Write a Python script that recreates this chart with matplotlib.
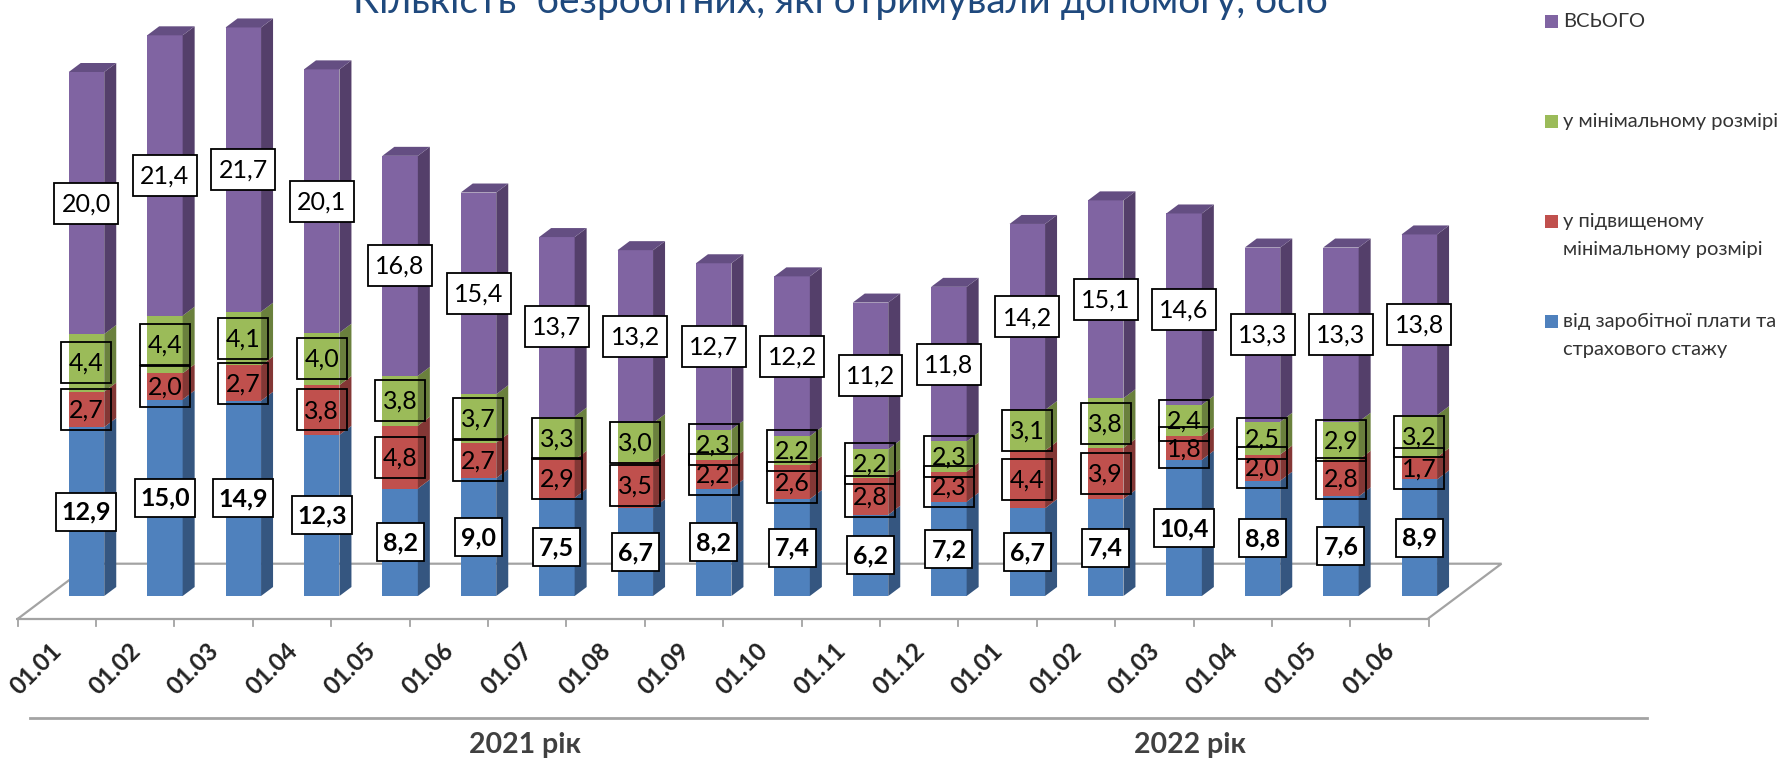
import numpy as np
import matplotlib
matplotlib.use('Agg')
import matplotlib.pyplot as plt
from matplotlib.patches import Polygon, Rectangle

plt.rcParams['font.family'] = ['Lato', 'Open Sans', 'DejaVu Sans']

months = ['01.01', '01.02', '01.03', '01.04', '01.05', '01.06', '01.07', '01.08', '01.09',
          '01.10', '01.11', '01.12', '01.01', '01.02', '01.03', '01.04', '01.05', '01.06']
wage = [12.9, 15.0, 14.9, 12.3, 8.2, 9.0, 7.5, 6.7, 8.2, 7.4, 6.2, 7.2, 6.7, 7.4, 10.4, 8.8, 7.6, 8.9]
raised = [2.7, 2.0, 2.7, 3.8, 4.8, 2.7, 2.9, 3.5, 2.2, 2.6, 2.8, 2.3, 4.4, 3.9, 1.8, 2.0, 2.8, 1.7]
minimal = [4.4, 4.4, 4.1, 4.0, 3.8, 3.7, 3.3, 3.0, 2.3, 2.2, 2.2, 2.3, 3.1, 3.8, 2.4, 2.5, 2.9, 3.2]
total = [20.0, 21.4, 21.7, 20.1, 16.8, 15.4, 13.7, 13.2, 12.7, 12.2, 11.2, 11.8, 14.2, 15.1, 14.6, 13.3, 13.3, 13.8]
years = ['2021 рік', '2022 рік']
title = 'Кількість  безробітних, які отримували допомогу, осіб'
legend_labels = ['ВСЬОГО', 'у мінімальному розмірі', 'у підвищеному\nмінімальному розмірі',
                 'від заробітної плати та\nстрахового стажу']

W, H = 1791, 760
STEP, UNIT = 78.4, 13.1   # px per category / per value
X0, Y0 = 86.5, 596        # px of first bar centre and of the base
BAR_W = 35.5 / STEP
DX, DY = 12 / STEP, 9 / UNIT

fig = plt.figure(figsize=(W / 100, H / 100), dpi=100, facecolor='white')

# pixel overlay for the floor, legend and title
bg = fig.add_axes([0, 0, 1, 1], zorder=0)
bg.set_xlim(0, W)
bg.set_ylim(H, 0)
bg.axis('off')

ax = fig.add_axes([0, 0, 1, 1], zorder=1)
ax.set_xlim(-X0 / STEP, (W - X0) / STEP)
ax.set_ylim((Y0 - H) / UNIT, Y0 / UNIT)
ax.axis('off')

##############################################################################
#   FLOOR                                                                    #
##############################################################################
gray = '#A3A3A3'
bg.plot([17.5, 91, 1501.5, 1427.5, 17.5], [619, 563.7, 563.7, 619, 619], color=gray, lw=1.6, solid_joinstyle='miter')
for i in range(len(months) + 1):
    xt = 17.5 + STEP * i
    bg.plot([xt, xt], [619, 626], color=gray, lw=1.3)
bg.plot([30, 1647], [718, 718], color=gray, lw=2)
bg.text(525, 745, years[0], fontsize=20.5, fontweight='bold', color='#404040', ha='center', va='center')
bg.text(1190, 745, years[1], fontsize=20.5, fontweight='bold', color='#404040', ha='center', va='center')

##############################################################################
#   BARS                                                                     #
##############################################################################
series = [wage, raised, minimal, total]
front = ['#4F81BD', '#C0504D', '#9BBB59', '#8064A2']
side = ['#355680', '#833735', '#6A803D', '#543F6A']
top_col = '#644E82'
xs = np.arange(len(months))
bottom = np.zeros(len(months))
for vals, fc, sc in zip(series, front, side):
    vals = np.array(vals)
    ax.bar(xs, vals, BAR_W, bottom=bottom, color=fc, zorder=2)
    for x, b, v in zip(xs, bottom, vals):
        r = x + BAR_W / 2
        ax.add_patch(Polygon([(r, b), (r + DX, b + DY), (r + DX, b + v + DY), (r, b + v)], color=sc, lw=0, zorder=2))
    bottom = bottom + vals
for x, t in zip(xs, bottom):
    l, r = x - BAR_W / 2, x + BAR_W / 2
    ax.add_patch(Polygon([(l, t), (r, t), (r + DX, t + DY), (l + DX, t + DY)], color=top_col, lw=0, zorder=2))

##############################################################################
#   LABELS                                                                   #
##############################################################################
def put_label(x, y, val, fill, weight, w_px, h_px, z):
    w, h = w_px / STEP, h_px / UNIT
    ax.add_patch(Rectangle((x - w / 2, y - h / 2), w, h, facecolor=fill, edgecolor='black', lw=1.3, zorder=z))
    ax.text(x, y - 0.05, f'{val:.1f}'.replace('.', ','), fontsize=18, fontweight=weight, color='black',
            ha='center', va='center', zorder=z + 0.1)

base = np.zeros(len(months))
for k, vals in enumerate(series):
    for x, b, v in zip(xs, base, vals):
        mid = b + v / 2
        if k == 0:
            put_label(x, mid, v, 'white', 'bold', 60 if v >= 10 else 47, 38, 3)
        elif k == 3:
            put_label(x, mid, v, 'white', 'normal', 64, 41, 3)
        else:
            put_label(x, mid, v, 'none', 'normal', 50, 41, 3 + k * 0.2)
    base = base + np.array(vals)

for x, m in zip(xs, months):
    ax.text(x - 0.64, -5.57, m, rotation=45, fontsize=17.5, fontweight='bold', color='#222222',
            ha='center', va='center', rotation_mode='anchor')

##############################################################################
#   LEGEND AND TITLE                                                         #
##############################################################################
legend_colors = ['#8064A2', '#9BBB59', '#C0504D', '#4F81BD']
legend_y = [15, 115, 215, 315]
for lab, c, ly in zip(legend_labels, legend_colors, legend_y):
    bg.add_patch(Rectangle((1545, ly), 13, 13, facecolor=c, edgecolor='none'))
    bg.text(1563, ly - 2, lab, fontsize=14.5, color='#333333', ha='left', va='top', linespacing=1.75)

bg.text(840, 13, title, fontsize=28, color='#1F497D', ha='center', va='baseline', clip_on=True)

fig.savefig('out.png', dpi=100)
